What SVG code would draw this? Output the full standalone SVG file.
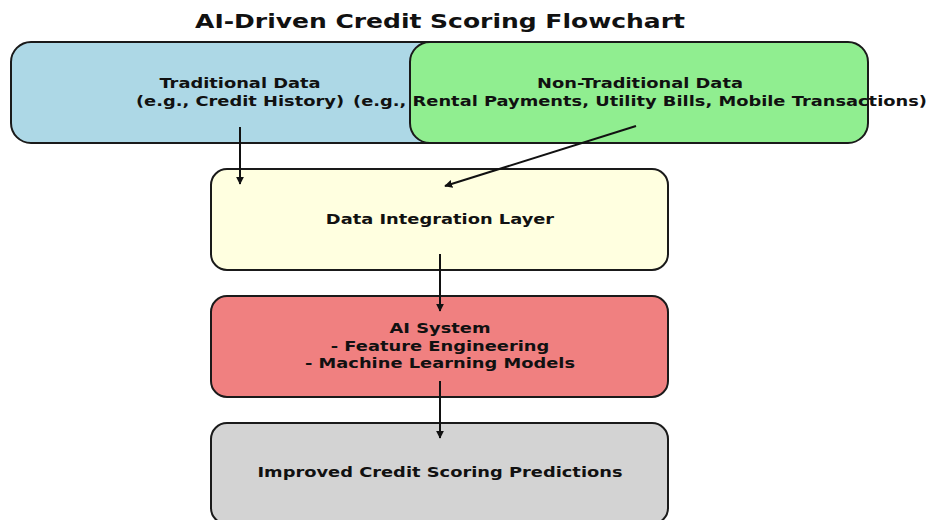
<svg xmlns="http://www.w3.org/2000/svg" width="928" height="520" viewBox="0 0 928 520">
  <defs>
    <marker id="head" viewBox="0 0 10 10" refX="9" refY="5" markerWidth="8" markerHeight="8" orient="auto" markerUnits="userSpaceOnUse">
      <path d="M0,0 L10,5 L0,10 Z" fill="#111"/>
    </marker>
    <style>
      .box { stroke: #1a1a1a; stroke-width: 2; }
      .lbl { font-family: "DejaVu Sans", sans-serif; font-weight: bold; font-size: 14.5px; fill: #111; text-anchor: middle; }
      .title { font-family: "DejaVu Sans", sans-serif; font-weight: bold; font-size: 20px; fill: #111; text-anchor: middle; }
      .edge { stroke: #111; stroke-width: 2; fill: none; marker-end: url(#head); }
    </style>
  </defs>
  <rect width="928" height="520" fill="#ffffff"/>

  <!-- text is drawn with a wide horizontal stretch -->
  <text class="title" transform="translate(440 28) scale(1.25 1)">AI-Driven Credit Scoring Flowchart</text>

  <g id="traditional">
    <rect class="box" x="11" y="42" width="458" height="101" rx="20" fill="#ADD8E6"/>
  </g>
  <g id="non-traditional">
    <rect class="box" x="410" y="42" width="458" height="101" rx="20" fill="#90EE90"/>
  </g>
  <g id="integration">
    <rect class="box" x="211" y="169" width="457" height="101" rx="16" fill="#FFFFE0"/>
    <text class="lbl" transform="translate(440 224) scale(1.23 1)">Data Integration Layer</text>
  </g>
  <g id="ai-system">
    <rect class="box" x="211" y="296" width="457" height="101" rx="16" fill="#F08080"/>
    <text class="lbl" transform="translate(440 333) scale(1.23 1)">AI System</text>
    <text class="lbl" transform="translate(440 351) scale(1.23 1)">- Feature Engineering</text>
    <text class="lbl" transform="translate(440 368) scale(1.23 1)">- Machine Learning Models</text>
  </g>
  <g id="predictions">
    <rect class="box" x="211" y="423" width="457" height="101" rx="16" fill="#D3D3D3"/>
    <text class="lbl" transform="translate(440 477) scale(1.23 1)">Improved Credit Scoring Predictions</text>
  </g>

  <!-- source labels sit above both source boxes -->
  <g id="source-labels">
    <text class="lbl" transform="translate(240 88) scale(1.23 1)">Traditional Data</text>
    <text class="lbl" transform="translate(240 106) scale(1.23 1)">(e.g., Credit History)</text>
    <text class="lbl" transform="translate(640 88) scale(1.23 1)">Non-Traditional Data</text>
    <text class="lbl" transform="translate(640 106) scale(1.23 1)">(e.g., Rental Payments, Utility Bills, Mobile Transactions)</text>
  </g>

  <g id="connectors">
    <line class="edge" x1="240" y1="127" x2="240" y2="184"/>
    <line class="edge" x1="636" y1="126" x2="445" y2="186"/>
    <line class="edge" x1="440" y1="254" x2="440" y2="311"/>
    <line class="edge" x1="440" y1="381" x2="440" y2="438"/>
  </g>
</svg>
